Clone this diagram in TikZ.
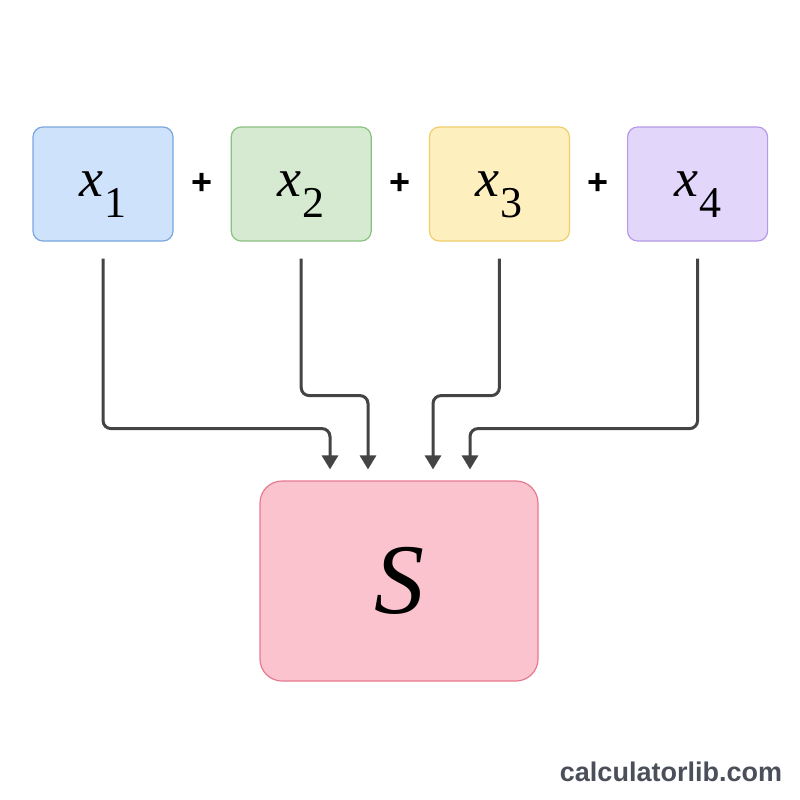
\documentclass[tikz,border=0pt]{standalone}
\usepackage{fontspec}
\setsansfont{Liberation Sans}
\newfontfamily\termfont{Liberation Serif}
\usetikzlibrary{arrows.meta,calc,positioning}
\definecolor{bluefill}{HTML}{CFE2FB}
\definecolor{blueline}{HTML}{7AA7E0}
\definecolor{greenfill}{HTML}{D5EAD0}
\definecolor{greenline}{HTML}{8CC083}
\definecolor{yellowfill}{HTML}{FDEFBE}
\definecolor{yellowline}{HTML}{F0CF6B}
\definecolor{purplefill}{HTML}{E3D6FB}
\definecolor{purpleline}{HTML}{B49AE8}
\definecolor{pinkfill}{HTML}{FBC3CE}
\definecolor{pinkline}{HTML}{E57A90}
\definecolor{arrowgray}{HTML}{444444}
\definecolor{markgray}{HTML}{4A4F5A}
% x with a lowered index, index kept out of the box height
\newcommand{\termlabel}[1]{{\termfont\fontsize{27}{32}\selectfont\itshape x}\kern.5pt\smash{\raisebox{-10.5pt}{\termfont\fontsize{22}{26}\selectfont #1}}}
\tikzset{
  termbox/.style={draw, line width=.6pt, rounded corners=5pt, minimum width=70pt, minimum height=57pt, inner sep=0pt},
  plussign/.style={font=\sffamily\bfseries\fontsize{18}{20}\selectfont},
  flow/.style={draw=arrowgray, line width=1.5pt, rounded corners=4pt, -{Triangle[width=8pt,length=7pt]}, shorten <=8.5pt, shorten >=5.5pt}
}
\begin{document}
\begin{tikzpicture}[x=0.5pt, y=-0.5pt]
		\useasboundingbox[fill=white] (0,0) rectangle (800,800);

		\node[termbox, fill=bluefill, draw=blueline]                      (xone)   at (103,184) {\termlabel{1}};
		\node[termbox, fill=greenfill, draw=greenline, right=28.5pt of xone]   (xtwo)   {\termlabel{2}};
		\node[termbox, fill=yellowfill, draw=yellowline, right=28.5pt of xtwo] (xthree) {\termlabel{3}};
		\node[termbox, fill=purplefill, draw=purpleline, right=28.5pt of xthree] (xfour) {\termlabel{4}};

		\node[plussign] (plusa) at ($(xone)!.5!(xtwo)$)    {+};
		\node[plussign] (plusb) at ($(xtwo)!.5!(xthree)$)  {+};
		\node[plussign] (plusc) at ($(xthree)!.5!(xfour)$) {+};

		\node[draw=pinkline, fill=pinkfill, line width=.6pt, rounded corners=11pt, minimum width=139pt, minimum height=100pt, font=\termfont\itshape\fontsize{50}{56}\selectfont] (sum) at (399,581) {S};

		\coordinate (ina)   at ($(sum.north)+(-69,0)$);
		\coordinate (inb)   at ($(sum.north)+(-31,0)$);
		\coordinate (inc)   at ($(sum.north)+(34,0)$);
		\coordinate (ind)   at ($(sum.north)+(71,0)$);

		\draw[flow] (xone.south)   -- ++(0,187) -| (ina);
		\draw[flow] (xtwo.south)   -- ++(0,154) -| (inb);
		\draw[flow] (xthree.south) -- ++(0,154) -| (inc);
		\draw[flow] (xfour.south)  -- ++(0,187) -| (ind);

		\node[text=markgray, font=\sffamily\bfseries\fontsize{13.5}{16}\selectfont] (mark) at (671,772) {calculatorlib.com};
	\end{tikzpicture}
\end{document}
